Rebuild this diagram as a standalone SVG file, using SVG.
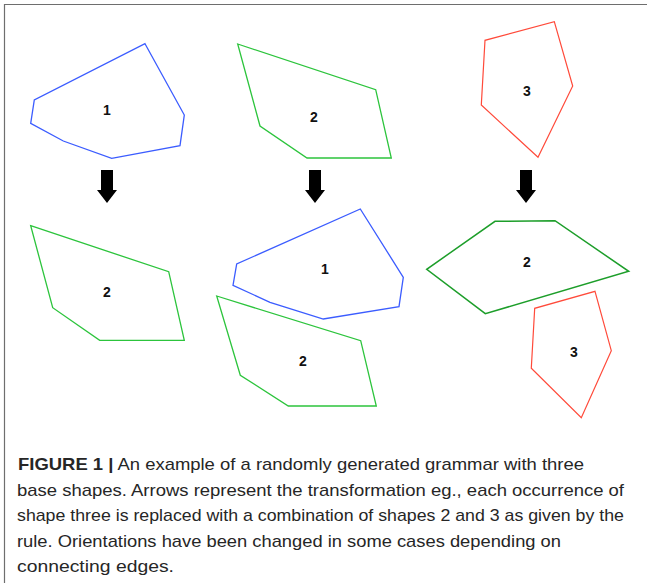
<svg xmlns="http://www.w3.org/2000/svg" width="647" height="583" viewBox="0 0 647 583">
  <style>
    .blue { fill: none; stroke: #3b5cff; stroke-width: 1.3; }
    .green { fill: none; stroke: #2cc43c; stroke-width: 1.3; }
    .dgreen { fill: none; stroke: #1d9e2a; stroke-width: 1.5; }
    .red { fill: none; stroke: #ff4a3a; stroke-width: 1.2; }
    .lbl { font-family: "Liberation Sans", Arial, sans-serif; font-weight: bold; font-size: 14px; fill: #111; text-anchor: middle; }
    .arrow { fill: #000; }
    .cap { font-family: "Liberation Sans", Arial, sans-serif; font-size: 17px; fill: #262626; }
    .frame { fill: none; stroke: #6e6e6e; stroke-width: 1.2; }
  </style>
  <defs>
    <path id="down" d="M-6,0 H6 V20 H10 L0,33 L-10,20 H-6 Z"/>
  </defs>
  <rect width="647" height="583" fill="#fff"/>
  <path class="frame" d="M4.5,583 V4.5 H647"/>

  <!-- base shapes -->
  <g id="shape1-base">
    <polygon class="blue" points="145,43.7 184.3,115 180,145.7 111.7,158.3 63.3,141 30.7,123.3 34.3,100"/>
    <text class="lbl" x="107" y="115">1</text>
  </g>
  <g id="shape2-base">
    <polygon class="green" points="237.7,44 375.7,89.7 391.3,158 307,158 260,126"/>
    <text class="lbl" x="314" y="122">2</text>
  </g>
  <g id="shape3-base">
    <polygon class="red" points="554.3,21.7 572.7,86 538,157.3 481.3,105 485,40.3"/>
    <text class="lbl" x="527" y="96">3</text>
  </g>

  <!-- rule arrows -->
  <g id="connectors">
    <use href="#down" class="arrow" x="107" y="170"/>
    <use href="#down" class="arrow" x="315" y="170"/>
    <use href="#down" class="arrow" x="526" y="170"/>
  </g>

  <!-- rule results -->
  <g id="rule1-shape2">
    <polygon class="green" points="30.7,225.7 168.7,271.7 184.3,340.3 99.7,340.3 52.7,307.7"/>
    <text class="lbl" x="107" y="297">2</text>
  </g>
  <g id="rule2-shape1">
    <polygon class="blue" points="360.3,209 403.3,277.3 399,306.7 323.3,319 270,302.3 233,285.3 236.7,264"/>
    <text class="lbl" x="325" y="274">1</text>
  </g>
  <g id="rule2-shape2">
    <polygon class="green" points="216.7,296 360.7,340.7 376.3,406 288.3,406 240.3,375.3"/>
    <text class="lbl" x="303" y="366">2</text>
  </g>
  <g id="rule3-shape2">
    <polygon class="dgreen" points="495,221.3 555,220.7 628.7,271.3 485.3,313.7 426.7,269.3"/>
    <text class="lbl" x="527" y="267">2</text>
  </g>
  <g id="rule3-shape3">
    <polygon class="red" points="595,291.3 611.3,350.7 581.3,417.7 531.3,368.3 534.7,308.3"/>
    <text class="lbl" x="574" y="357">3</text>
  </g>

  <!-- caption -->
  <g id="caption" class="cap">
    <text x="18" y="470" textLength="566" lengthAdjust="spacingAndGlyphs"><tspan font-weight="bold">FIGURE 1 |</tspan> An example of a randomly generated grammar with three</text>
    <text x="17" y="496" textLength="607" lengthAdjust="spacingAndGlyphs">base shapes. Arrows represent the transformation eg., each occurrence of</text>
    <text x="17" y="521" textLength="607" lengthAdjust="spacingAndGlyphs">shape three is replaced with a combination of shapes 2 and 3 as given by the</text>
    <text x="17" y="547" textLength="544" lengthAdjust="spacingAndGlyphs">rule. Orientations have been changed in some cases depending on</text>
    <text x="17" y="572" textLength="157" lengthAdjust="spacingAndGlyphs">connecting edges.</text>
  </g>
</svg>
